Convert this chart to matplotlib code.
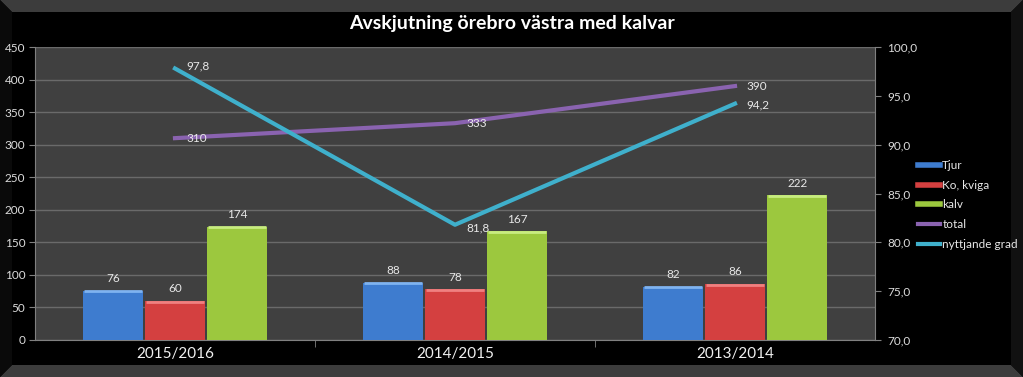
import numpy as np
import matplotlib
matplotlib.use("Agg")
from matplotlib import pyplot as plt
from matplotlib.lines import Line2D
from matplotlib.patches import Polygon

# data
seasons = ["2015/2016", "2014/2015", "2013/2014"]
tjur = [76, 88, 82]
ko_kviga = [60, 78, 86]
kalv = [174, 167, 222]
total = [310, 333, 390]
nyttjande = [97.8, 81.8, 94.2]

plt.rcParams['font.family'] = ['Lato', 'DejaVu Sans']

W, H = 1023, 377
fig = plt.figure(figsize=(W / 100, H / 100), dpi=100, facecolor='black')

# bevel frame round the chart
def px(x, y):
    return (x / W, 1 - y / H)

frame = [
    ([px(0, 0), px(W, 0), px(W - 12, 12), px(12, 12)], '#3c3c3c'),
    ([px(12, H - 12), px(W - 12, H - 12), px(W, H), px(0, H)], '#3c3c3c'),
    ([px(W - 12, 12), px(W, 0), px(W, H), px(W - 12, H - 12)], '#111111'),
    ([px(0, 0), px(12, 12), px(12, H - 12), px(0, H)], '#0a0a0a'),
]
for pts, col in frame:
    fig.patches.append(Polygon(pts, closed=True, transform=fig.transFigure,
                               facecolor=col, edgecolor='none', zorder=-5))

ax = fig.add_axes([35 / W, 1 - 340 / H, 840 / W, 293 / H])
ax.set_facecolor('#404040')

x = np.arange(len(seasons))
w = 0.215
off = 0.222
c_tjur, c_ko, c_kalv = '#3e7ccf', '#d44040', '#9cc83e'
c_tot, c_nyt = '#8a63b0', '#3fb0cc'

for vals, dx, col, edge in [(tjur, -off, c_tjur, '#7fb3f0'),
                            (ko_kviga, 0, c_ko, '#f08080'),
                            (kalv, off, c_kalv, '#c8ec80')]:
    bars = ax.bar(x + dx, vals, width=w, color=col, zorder=3)
    for b, v in zip(bars, vals):
        # light top edge like the bevel in the original
        ax.plot([b.get_x() + 0.004, b.get_x() + b.get_width() - 0.004], [v - 1, v - 1],
                color=edge, lw=2, zorder=4, solid_capstyle='butt')
        ax.text(b.get_x() + b.get_width() / 2, v + 10, str(v), ha='center', va='bottom',
                color='#e8e8e8', fontsize=8.5, zorder=5)

ax.set_xlim(-0.5, 2.5)
ax.set_ylim(0, 450)
ax.set_yticks(np.arange(0, 451, 50))
ax.yaxis.grid(True, color='#6a6a6a', lw=1)
ax.set_axisbelow(True)
ax.set_xticks(x)
ax.set_xticklabels(seasons, fontsize=11, color='#f0f0f0')
ax.set_xticks([0.5, 1.5], minor=True)
ax.tick_params(axis='x', which='major', length=0, pad=5)
ax.tick_params(axis='x', which='minor', length=5, color='#808080')
ax.tick_params(axis='y', colors='#dcdcdc', labelsize=8.5, length=4, color='#808080', pad=3)
for s in ['top', 'right']:
    ax.spines[s].set_visible(False)
for s in ['left', 'bottom']:
    ax.spines[s].set_color('#808080')

ax.plot(x, total, color=c_tot, lw=3, zorder=6)
for xi, v in zip(x, total):
    ax.text(xi + 0.04, v, str(v), ha='left', va='center', color='#e8e8e8',
            fontsize=8.5, zorder=7)

ax2 = ax.twinx()
ax2.set_ylim(70, 100)
ax2.set_yticks(np.arange(70, 101, 5))
ax2.set_yticklabels([f"{t:.1f}".replace('.', ',') for t in np.arange(70, 101, 5)])
ax2.tick_params(axis='y', colors='#dcdcdc', labelsize=8.5, length=4, color='#808080', pad=5)
for s in ['top', 'left', 'bottom']:
    ax2.spines[s].set_visible(False)
ax2.spines['right'].set_color('#808080')
ax2.plot(x, nyttjande, color=c_nyt, lw=3, zorder=6)
for xi, v in zip(x, nyttjande):
    ax2.text(xi + 0.04, v + (0.3 if xi == 0 else -0.3 if xi == 1 else -0.1),
             f"{v:.1f}".replace('.', ','), ha='left', va='center',
             color='#e8e8e8', fontsize=8.5, zorder=7)

fig.text(512 / W, 1 - 23 / H, "Avskjutning örebro västra med kalvar", ha='center',
         va='center', color='white', fontsize=14, fontweight='bold')

handles = [Line2D([], [], color=c_tjur, lw=4),
           Line2D([], [], color=c_ko, lw=4),
           Line2D([], [], color=c_kalv, lw=4),
           Line2D([], [], color=c_tot, lw=3),
           Line2D([], [], color=c_nyt, lw=3)]
labels = ["Tjur", "Ko, kviga", "kalv", "total", "nyttjande grad"]
fig.legend(handles, labels, loc='center left', bbox_to_anchor=(918 / W, 1 - 205 / H),
           frameon=False, fontsize=8.5, labelcolor='#e8e8e8', handlelength=1.9,
           handletextpad=0.15, labelspacing=0.75, borderpad=0, borderaxespad=0)

fig.savefig("out.png", dpi=100, facecolor='black')
